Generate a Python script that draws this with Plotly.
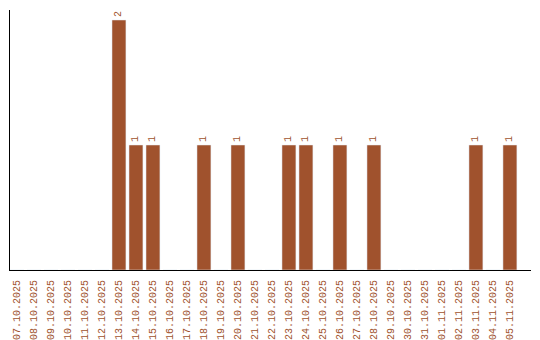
import plotly.graph_objects as go

dates = ["07.10.2025","08.10.2025","09.10.2025","10.10.2025","11.10.2025","12.10.2025",
         "13.10.2025","14.10.2025","15.10.2025","16.10.2025","17.10.2025","18.10.2025",
         "19.10.2025","20.10.2025","21.10.2025","22.10.2025","23.10.2025","24.10.2025",
         "25.10.2025","26.10.2025","27.10.2025","28.10.2025","29.10.2025","30.10.2025",
         "31.10.2025","01.11.2025","02.11.2025","03.11.2025","04.11.2025","05.11.2025"]
counts = [0,0,0,0,0,0,2,1,1,0,0,1,0,1,0,0,1,1,0,1,0,1,0,0,0,0,0,1,0,1]

color = "#A0522D"
font = "Liberation Mono"

labels = [str(c) if c > 0 else "" for c in counts]

fig = go.Figure(go.Bar(
    x=list(range(len(dates))), y=counts,
    marker_color=color, width=0.82,
    text=labels, textposition="outside", textangle=-90,
    textfont=dict(family=font, size=10, color=color),
    cliponaxis=False,
))

fig.update_layout(
    width=540, height=340,
    margin=dict(l=10, r=9, t=10, b=70),
    paper_bgcolor="white", plot_bgcolor="white",
    showlegend=False,
    xaxis=dict(
        tickmode="array", tickvals=list(range(len(dates))), ticktext=dates,
        tickangle=-90, range=[-0.41, 30.24], automargin=False,
        showline=True, linecolor="black", linewidth=1,
        showgrid=False, zeroline=False, ticks="",
        tickfont=dict(family=font, size=10, color=color),
        ticklabelstandoff=5,
    ),
    yaxis=dict(
        range=[0, 2.08], showline=True, linecolor="black", linewidth=1,
        showgrid=False, zeroline=False, showticklabels=False, ticks="",
        automargin=False,
    ),
)

fig.write_html("out.html")
